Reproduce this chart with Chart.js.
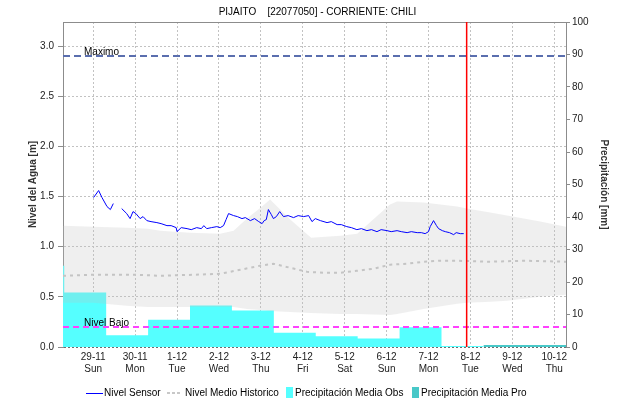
<!DOCTYPE html>
<html>
<head>
<meta charset="utf-8">
<script src="https://cdn.jsdelivr.net/npm/chart.js@4.4.1/dist/chart.umd.min.js"></script>
<style>
html, body { margin: 0; padding: 0; background: #fff; }
#wrap { position: relative; width: 623px; height: 405px; }
#legend { position: absolute; left: 0; top: 386px; width: 623px; height: 14px;
  font: 10px "Liberation Sans", Arial, sans-serif; color: #000; }
#legend span { position: absolute; white-space: nowrap; }
#legend .txt { top: 1px; }
.sym-line { top: 7px; width: 17px; height: 0; border-top: 1px solid #0000ff; }
.sym-dots { top: 6px; width: 14px; height: 2px;
  background: repeating-linear-gradient(90deg, #c8c8c8 0 3px, transparent 3px 5px); }
.sym-box { top: 1px; width: 7px; height: 11px; }
</style>
</head>
<body>
<div id="wrap">
  <canvas id="nivelChart" width="623" height="405"></canvas>
  <div id="legend">
    <span class="sym-line" style="left:86px"></span>
    <span class="txt" style="left:104px">Nivel Sensor</span>
    <span class="sym-dots" style="left:167px"></span>
    <span class="txt" style="left:185px">Nivel Medio Historico</span>
    <span class="sym-box" style="left:286px;background:#55ffff"></span>
    <span class="txt" style="left:295px">Precipitación Media Obs</span>
    <span class="sym-box" style="left:412px;background:#48c8c8"></span>
    <span class="txt" style="left:421px">Precipitación Media Pro</span>
  </div>
</div>
<script>
// ---------------------------------------------------------
// DATA (x = days from 29-11 00:00)
// ---------------------------------------------------------
const tituloGrafico = 'PIJAITO    [22077050] - CORRIENTE: CHILI';
const xMin = -0.72;
const xMax = 11.28;
const dayTicks = [0, 1, 2, 3, 4, 5, 6, 7, 8, 9, 10, 11];
const dayLabels = ['29-11', '30-11', '1-12', '2-12', '3-12', '4-12', '5-12', '6-12', '7-12', '8-12', '9-12', '10-12'];
const weekDays = ['Sun', 'Mon', 'Tue', 'Wed', 'Thu', 'Fri', 'Sat', 'Sun', 'Mon', 'Tue', 'Wed', 'Thu'];
const levelTicks = [0, 0.5, 1.0, 1.5, 2.0, 2.5, 3.0];
const levelMax = 3.24;

// sensor level [m]; null = no data
const sensorT = [0.01, 0.13, 0.21, 0.33, 0.41, 0.48, 0.58,
  0.68, 0.80, 0.88, 0.95, 1.02, 1.12, 1.19, 1.28, 1.38, 1.52, 1.62, 1.76, 1.86, 1.98, 2.00, 2.10,
  2.24, 2.34, 2.47, 2.58, 2.64, 2.71, 2.82, 2.95, 3.03, 3.11, 3.17, 3.23, 3.35, 3.44, 3.55, 3.63,
  3.75, 3.85, 3.95, 4.03, 4.08, 4.13, 4.18, 4.25, 4.30, 4.37, 4.45, 4.54, 4.65, 4.78, 4.89, 5.02,
  5.14, 5.22, 5.30, 5.42, 5.58, 5.68, 5.82, 5.92, 6.05, 6.16, 6.29, 6.40, 6.53, 6.64, 6.77, 6.87,
  7.01, 7.11, 7.25, 7.35, 7.49, 7.59, 7.73, 7.83, 7.92, 8.00, 8.04, 8.12, 8.19, 8.24, 8.33, 8.40,
  8.50, 8.60, 8.66, 8.76, 8.84];
const sensorLevel = [1.49, 1.56, 1.49, 1.40, 1.37, 1.43, null,
  1.38, 1.33, 1.28, 1.35, 1.33, 1.28, 1.30, 1.26, 1.25, 1.24, 1.23, 1.21, 1.21, 1.19, 1.15, 1.19,
  1.18, 1.17, 1.19, 1.18, 1.21, 1.18, 1.19, 1.20, 1.19, 1.21, 1.27, 1.33, 1.31, 1.30, 1.28, 1.29,
  1.26, 1.28, 1.25, 1.23, 1.26, 1.27, 1.37, 1.32, 1.28, 1.30, 1.35, 1.30, 1.31, 1.29, 1.31, 1.30,
  1.31, 1.25, 1.28, 1.26, 1.24, 1.25, 1.22, 1.22, 1.20, 1.19, 1.17, 1.18, 1.16, 1.17, 1.15, 1.17,
  1.16, 1.15, 1.16, 1.15, 1.14, 1.15, 1.14, 1.14, 1.13, 1.15, 1.20, 1.26, 1.21, 1.18, 1.16, 1.15,
  1.14, 1.12, 1.14, 1.13, 1.13];

// historical median level [m]
const medioT = [-0.72, 0.0, 1.02, 1.60, 2.39, 3.03, 3.51, 3.98, 4.30, 4.70, 5.10, 5.49, 5.89,
  6.29, 6.69, 7.08, 7.48, 7.88, 8.28, 8.68, 9.47, 10.27, 11.28];
const medioLevel = [0.71, 0.72, 0.72, 0.71, 0.72, 0.73, 0.77, 0.81, 0.83, 0.79, 0.75, 0.74, 0.74,
  0.76, 0.78, 0.82, 0.83, 0.85, 0.86, 0.86, 0.85, 0.86, 0.85];

// historical range band [m]
const bandT = [-0.72, 0.0, 0.8, 1.3, 1.6, 2.3, 3.03, 3.35, 3.67, 4.0, 4.22, 4.7, 5.2, 5.9, 6.3,
  7.08, 7.25, 7.88, 8.68, 8.91, 9.47, 9.87, 10.27, 10.66, 11.28];
const bandHigh = [1.21, 1.20, 1.19, 1.18, 1.16, 1.14, 1.13, 1.16, 1.28, 1.39, 1.47, 1.27, 1.09, 1.11, 1.13,
  1.42, 1.45, 1.44, 1.40, 1.38, 1.34, 1.31, 1.28, 1.25, 1.20];
const bandLow = [0.44, 0.44, 0.41, 0.40, 0.40, 0.40, 0.40, 0.40, 0.38, 0.37, 0.36, 0.35, 0.34, 0.33, 0.33,
  0.32, 0.33, 0.38, 0.43, 0.44, 0.45, 0.46, 0.48, 0.50, 0.52];

// daily precipitation [mm], periods start 07:00
const obsEdges = [-1.69, -0.69, 0.31, 1.31, 2.31, 3.31, 4.31, 5.31, 6.31, 7.31, 8.31, 9.31];
const obsPrecip = [25, 16.8, 3.6, 8.4, 12.8, 11.2, 4.4, 3.3, 2.6, 6.1, 0.3];
const proEdges = [9.31, 10.31, 11.31];
const proPrecip = [0.6, 0.6];

// reference levels
const nivelMaximo = 2.9;
const nivelBajo = 0.2;
const ahora = 8.91;

// ---------------------------------------------------------
// HELPERS
// ---------------------------------------------------------
const toPoints = (xs, ys) => xs.map((x, i) => ({ x: x, y: ys[i] }));
function stepPoints(edges, vals) {
    const pts = vals.map((v, i) => ({ x: edges[i], y: v }));
    pts.push({ x: edges[edges.length - 1], y: vals[vals.length - 1] });
    return pts;
}

Chart.defaults.font.family = '"Liberation Sans", Arial, sans-serif';
Chart.defaults.font.size = 10;
Chart.defaults.color = '#222';

const axisGrey = '#8c8c8c';
const gridGrey = '#c2c2c2';

// text labels on the reference lines + chart title
const chartTexts = {
    id: 'chartTexts',
    afterDatasetsDraw(chart) {
        const { ctx, chartArea, scales } = chart;
        ctx.save();
        ctx.font = '10px "Liberation Sans", Arial, sans-serif';
        ctx.fillStyle = '#000';
        ctx.textBaseline = 'alphabetic';
        ctx.fillText('Maximo', chartArea.left + 21, scales.y.getPixelForValue(nivelMaximo) - 1);
        ctx.fillText('Nivel Bajo', chartArea.left + 21, scales.y.getPixelForValue(nivelBajo) - 1);
        ctx.textAlign = 'center';
        ctx.fillText(tituloGrafico, (chartArea.left + chartArea.right) / 2 + 3, 15);
        ctx.restore();
    }
};

// ---------------------------------------------------------
// CHART
// ---------------------------------------------------------
const ctx = document.getElementById('nivelChart').getContext('2d');

new Chart(ctx, {
    type: 'line',
    data: {
        datasets: [
            {
                label: 'Nivel Sensor',
                data: toPoints(sensorT, sensorLevel),
                yAxisID: 'y',
                borderColor: '#0000ff',
                borderWidth: 1,
                spanGaps: false,
                order: 0
            },
            {
                label: 'Ahora',
                data: [{ x: ahora, y: 0 }, { x: ahora, y: levelMax }],
                yAxisID: 'y',
                borderColor: '#ff0000',
                borderWidth: 1.5,
                order: 1
            },
            {
                label: 'Maximo',
                data: [{ x: xMin, y: nivelMaximo }, { x: xMax, y: nivelMaximo }],
                yAxisID: 'y',
                borderColor: '#5a6eae',
                borderWidth: 2,
                borderDash: [7, 4],
                order: 1
            },
            {
                label: 'Nivel Bajo',
                data: [{ x: xMin, y: nivelBajo }, { x: xMax, y: nivelBajo }],
                yAxisID: 'y',
                borderColor: '#ff40ff',
                borderWidth: 2,
                borderDash: [6, 4],
                order: 1
            },
            {
                label: 'Nivel Medio Historico',
                data: toPoints(medioT, medioLevel),
                yAxisID: 'y',
                borderColor: '#c4c4c4',
                borderWidth: 2,
                borderDash: [3, 4],
                order: 2
            },
            {
                label: 'Minimo Historico',
                data: toPoints(bandT, bandLow),
                yAxisID: 'y',
                borderWidth: 0,
                borderColor: 'rgba(0,0,0,0)',
                order: 4
            },
            {
                label: 'Maximo Historico',
                data: toPoints(bandT, bandHigh),
                yAxisID: 'y',
                borderWidth: 0,
                borderColor: 'rgba(0,0,0,0)',
                backgroundColor: 'rgba(190,190,190,0.25)',
                fill: '-1',
                order: 3
            },
            {
                label: 'Precipitación Media Obs',
                data: stepPoints(obsEdges, obsPrecip),
                yAxisID: 'y2',
                stepped: true,
                borderWidth: 0,
                borderColor: 'rgba(0,0,0,0)',
                backgroundColor: '#55ffff',
                fill: 'origin',
                order: 5
            },
            {
                label: 'Precipitación Media Pro',
                data: stepPoints(proEdges, proPrecip),
                yAxisID: 'y2',
                stepped: true,
                borderWidth: 0,
                borderColor: 'rgba(0,0,0,0)',
                backgroundColor: '#48c8c8',
                fill: 'origin',
                order: 5
            }
        ]
    },
    options: {
        responsive: false,
        animation: false,
        layout: { padding: { top: 22, bottom: 28, left: 0, right: 0 } },
        elements: { point: { radius: 0 }, line: { tension: 0 } },
        plugins: {
            legend: { display: false },
            tooltip: { enabled: false }
        },
        scales: {
            x: {
                type: 'linear',
                position: 'bottom',
                min: xMin,
                max: xMax,
                afterFit: s => { s.height = 30; },
                afterBuildTicks: s => { s.ticks = dayTicks.map(v => ({ value: v })); },
                ticks: {
                    autoSkip: false,
                    maxRotation: 0,
                    padding: 4,
                    color: '#222',
                    callback: (v, i) => [dayLabels[i], weekDays[i]]
                },
                grid: { color: gridGrey, drawTicks: false },
                border: { display: false, dash: [2, 2] }
            },
            xTop: {
                type: 'linear',
                position: 'top',
                min: xMin,
                max: xMax,
                afterFit: s => { s.height = 0; },
                ticks: { display: false },
                grid: { display: false },
                border: { display: true, color: axisGrey }
            },
            y: {
                type: 'linear',
                position: 'left',
                min: 0,
                max: levelMax,
                afterFit: s => { s.width = 63; },
                afterBuildTicks: s => { s.ticks = levelTicks.map(v => ({ value: v })); },
                ticks: { padding: 4, color: '#222', callback: v => v.toFixed(1) },
                grid: {
                    color: c => (c.tick && c.tick.value === 0 ? '#6c6c6c' : gridGrey),
                    tickLength: 5,
                    tickColor: axisGrey,
                    tickBorderDash: []
                },
                border: { color: axisGrey, dash: [2, 2] },
                title: {
                    display: true,
                    text: 'Nivel del Agua [m]',
                    color: '#333',
                    font: { size: 10, weight: 'bold' },
                    padding: { top: 27, bottom: 0 }
                }
            },
            y2: {
                type: 'linear',
                position: 'right',
                min: 0,
                max: 100,
                afterFit: s => { s.width = 57; },
                ticks: { stepSize: 10, padding: 2, color: '#222' },
                grid: { drawOnChartArea: false, tickLength: 4, tickColor: axisGrey },
                border: { color: axisGrey },
                title: {
                    display: true,
                    text: 'Precipitación [mm]',
                    color: '#333',
                    font: { size: 10, weight: 'bold' },
                    padding: { top: 13, bottom: 0 }
                }
            }
        }
    },
    plugins: [chartTexts]
});
</script>
</body>
</html>
